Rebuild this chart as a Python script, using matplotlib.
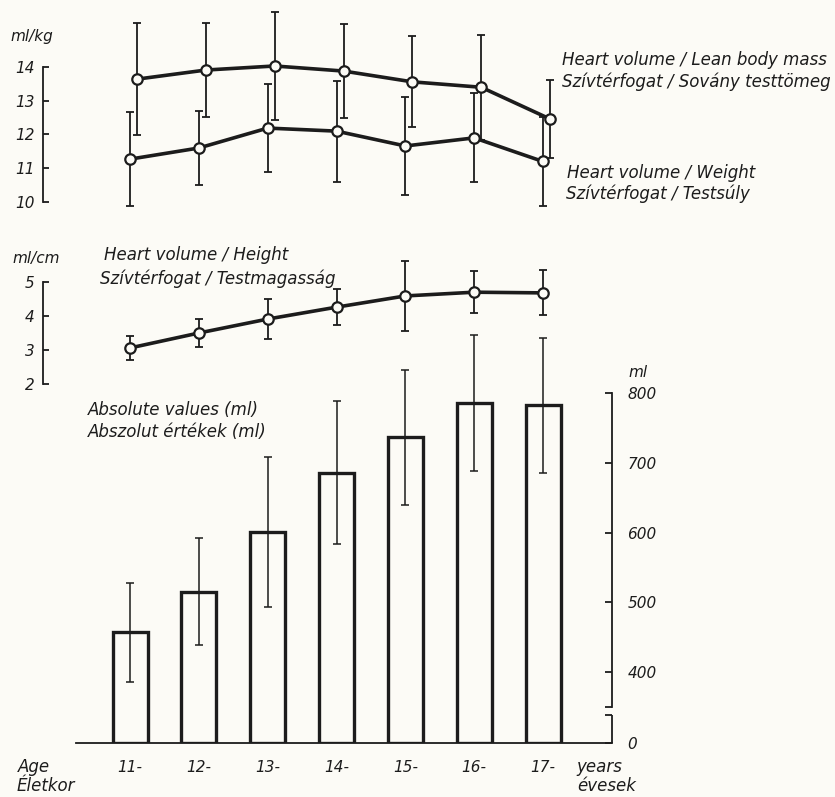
import numpy as np
import matplotlib
matplotlib.use("Agg")
import matplotlib.pyplot as plt

# ---------------- data ----------------
ages = [11, 12, 13, 14, 15, 16, 17]
age_labels = ["11-", "12-", "13-", "14-", "15-", "16-", "17-"]

lbm_mean = [13.64, 13.91, 14.03, 13.88, 13.56, 13.40, 12.46]   # ml/kg, heart volume / lean body mass
lbm_sd = [1.65, 1.38, 1.60, 1.40, 1.35, 1.55, 1.15]

wt_mean = [11.27, 11.60, 12.19, 12.10, 11.66, 11.90, 11.20]    # ml/kg, heart volume / weight
wt_sd = [1.40, 1.10, 1.30, 1.50, 1.45, 1.32, 1.32]

ht_mean = [3.06, 3.50, 3.91, 4.26, 4.59, 4.70, 4.68]           # ml/cm, heart volume / height
ht_sd = [0.36, 0.42, 0.58, 0.53, 1.03, 0.62, 0.66]

abs_mean = [457, 515, 601, 686, 737, 786, 783]                 # ml, absolute values
abs_sd = [71, 77, 108, 103, 97, 97, 97]

kg_ticks = [10, 11, 12, 13, 14]
cm_ticks = [2, 3, 4, 5]
ml_ticks = [0, 400, 500, 600, 700, 800]

# ---------------- style ----------------
W, H, DPI = 835, 797, 100
INK = "#1c1c1c"
BG = "#fcfbf6"
FONT = "DejaVu Sans"
plt.rcParams["font.family"] = [FONT]
plt.rcParams["font.style"] = "italic"

fig = plt.figure(figsize=(W / DPI, H / DPI), dpi=DPI, facecolor=BG)


def axes_px(left, top, right, bottom):
    ax = fig.add_axes([left / W, 1 - bottom / H, (right - left) / W, (bottom - top) / H])
    ax.set_facecolor("none")
    return ax


# common x mapping: age 11 -> px 130, age 17 -> px 543 ; axes from px 43 to 612
step = (543 - 130) / 6.0
XLIM = (11 - (130 - 43) / step, 11 + (612 - 130) / step)
x = np.array(ages, dtype=float)
LBM_SHIFT = 7 / step  # the lean-body-mass curve is drawn slightly to the right


def left_axis(ax, ticks):
    for s in ["top", "right", "bottom"]:
        ax.spines[s].set_visible(False)
    ax.spines["left"].set_bounds(ticks[0], ticks[-1])
    ax.spines["left"].set_linewidth(1.3)
    ax.spines["left"].set_color(INK)
    ax.set_yticks(ticks)
    ax.set_yticklabels([str(t) for t in ticks])
    ax.tick_params(axis="y", direction="in", length=4.5, width=1.3, color=INK,
                   labelsize=11, labelcolor=INK, pad=6)
    ax.set_xticks([])
    ax.set_xlim(*XLIM)


def err_line(ax, xs, m, sd):
    ax.errorbar(xs, m, yerr=sd, fmt="none", ecolor=INK, elinewidth=1.3,
                capsize=3.2, capthick=1.3, clip_on=False, zorder=2)
    ax.plot(xs, m, "-o", color=INK, lw=2.6, ms=7.5, mfc=BG, mec=INK, mew=1.6,
            clip_on=False, zorder=3)


# ---------------- top panel: ml/kg ----------------
ax1 = axes_px(43, 0, 612, 215)
k = 33.75
ax1.set_ylim(14 - (215 - 67) / k, 14 + 67 / k)
left_axis(ax1, kg_ticks)
err_line(ax1, x + LBM_SHIFT, lbm_mean, lbm_sd)
err_line(ax1, x, wt_mean, wt_sd)

# ---------------- middle panel: ml/cm ----------------
ax2 = axes_px(43, 240, 612, 400)
k2 = 34.0
ax2.set_ylim(5 - (400 - 282) / k2, 5 + (282 - 240) / k2)
left_axis(ax2, cm_ticks)
err_line(ax2, x, ht_mean, ht_sd)

# ---------------- bottom panel: absolute values with broken axis ----------------
BREAK, LOW0 = 350.0, 298.0


def fwd(v):
    v = np.asarray(v, dtype=float)
    return np.where(v >= BREAK, v, LOW0 + v * (BREAK - LOW0) / BREAK)


def inv(t):
    t = np.asarray(t, dtype=float)
    return np.where(t >= BREAK, t, (t - LOW0) * BREAK / (BREAK - LOW0))


ax3 = axes_px(43, 330, 612, 743)
ax3.set_yscale("function", functions=(fwd, inv))
ax3.set_xlim(*XLIM)
ax3.set_ylim(0, 400 + (672 - 330) / 0.6968)

ax3.bar(x, abs_mean, width=35 / step, color=BG, edgecolor=INK, linewidth=2.4, zorder=2)
ax3.errorbar(x, abs_mean, yerr=abs_sd, fmt="none", ecolor=INK, elinewidth=1.1,
             capsize=2.8, capthick=1.1, clip_on=False, zorder=3)

for s in ["top", "left"]:
    ax3.spines[s].set_visible(False)
ax3.spines["right"].set_bounds(BREAK, 800)
ax3.spines["bottom"].set_bounds(XLIM[0] + (76 - 43) / step, XLIM[1])
for s in ["right", "bottom"]:
    ax3.spines[s].set_linewidth(1.3)
    ax3.spines[s].set_color(INK)
LOW_TOP = 270
ax3.plot([1, 1], [0, LOW_TOP], transform=ax3.get_yaxis_transform(), color=INK,
         lw=1.3, clip_on=False, solid_capstyle="butt")
ax3.yaxis.tick_right()
ax3.set_yticks(ml_ticks)
ax3.set_yticklabels([str(t) for t in ml_ticks])
ax3.set_yticks([LOW_TOP, BREAK], minor=True)
ax3.tick_params(axis="y", which="both", direction="in", length=5, width=1.3, color=INK,
                labelsize=11, labelcolor=INK, pad=11)
ax3.set_xticks(x)
ax3.set_xticklabels(age_labels)
ax3.tick_params(axis="x", length=0, labelsize=11, labelcolor=INK, pad=12)

# ---------------- texts ----------------
def ftext(px, py, s, size=12, ha="left"):
    fig.text(px / W, 1 - py / H, s, ha=ha, va="center", fontsize=size,
             color=INK, style="italic", family=FONT)


ftext(10, 37, "ml/kg", 11)
ftext(562, 60, "Heart volume / Lean body mass")
ftext(562, 82, "Szívtérfogat / Sovány testtömeg")
ftext(567, 173, "Heart volume / Weight")
ftext(566, 194, "Szívtérfogat / Testsúly")

ftext(12, 258, "ml/cm", 11)
ftext(104, 255, "Heart volume / Height")
ftext(100, 279, "Szívtérfogat / Testmagasság")

ftext(88, 410, "Absolute values (ml)")
ftext(88, 432, "Abszolut értékek (ml)")
ftext(628, 373, "ml", 11)

ftext(18, 767, "Age")
ftext(17, 786, "Életkor")
ftext(576, 767, "years")
ftext(577, 786, "évesek")

fig.savefig("out.png", dpi=DPI, facecolor=BG)
